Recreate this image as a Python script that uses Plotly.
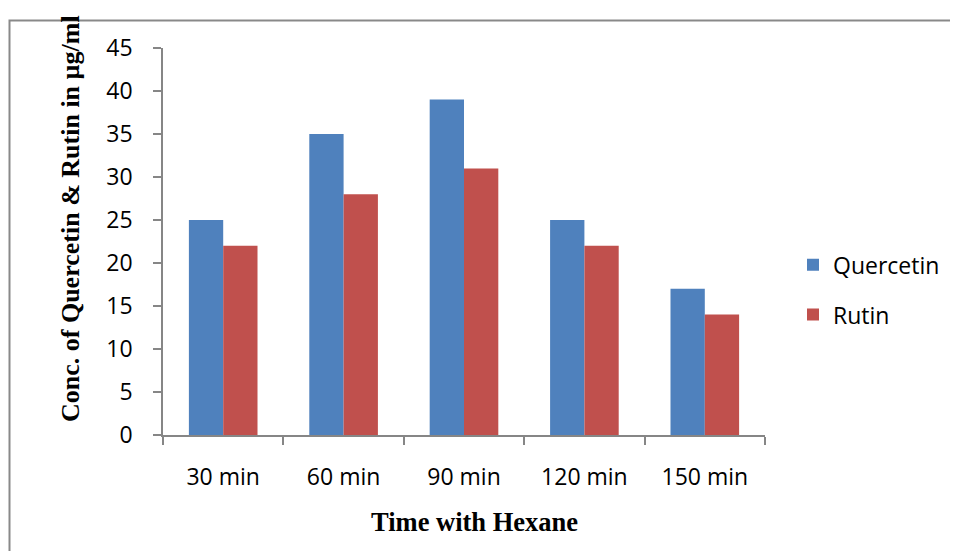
import plotly.graph_objects as go

categories = ["30 min", "60 min", "90 min", "120 min", "150 min"]
quercetin = [25, 35, 39, 25, 17]
rutin = [22, 28, 31, 22, 14]
y_ticks = [0, 5, 10, 15, 20, 25, 30, 35, 40, 45]

OFF = 8  # default page body margin
W, H = 958 - OFF, 551 - OFF
L, R, T, B = 163 - OFF, 765 - OFF, 48 - OFF, 435 - OFF  # plot area in pixels


def px(xp):
    return (xp - OFF - L) / (R - L)


def py(yp):
    return (B - (yp - OFF)) / (B - T)


fig = go.Figure()
fig.add_trace(go.Bar(x=categories, y=quercetin, name="Quercetin",
                     marker=dict(color="#4F81BD", line=dict(width=0)),
                     legendgroup="q"))
fig.add_trace(go.Bar(x=categories, y=rutin, name="Rutin",
                     marker=dict(color="#C0504D", line=dict(width=0)),
                     legendgroup="r"))

axis_color = "#868686"
fig.update_layout(
    width=W, height=H,
    margin=dict(l=L, r=W - R, t=T, b=H - B, pad=0),
    paper_bgcolor="white", plot_bgcolor="white",
    barmode="group", bargap=0.43, bargroupgap=0,
    font=dict(family="Open Sans", size=23, color="black"),
    showlegend=True,
    legend=dict(x=px(793), y=py(289.75), xanchor="left", yanchor="middle",
                font=dict(family="Open Sans", size=23, color="black"),
                tracegroupgap=17, traceorder="grouped",
                bgcolor="rgba(0,0,0,0)"),
    xaxis=dict(showline=True, linecolor=axis_color, linewidth=1.5,
               ticks="outside", tickson="boundaries", ticklen=8,
               tickcolor=axis_color, tickwidth=1.5,
               showgrid=False, zeroline=False, ticklabelstandoff=21,
               tickfont=dict(family="Open Sans", size=23, color="black")),
    yaxis=dict(range=[0, 45], tickvals=y_ticks, showline=True,
               linecolor=axis_color, linewidth=1.5, ticks="outside",
               ticklen=8, tickcolor=axis_color, tickwidth=1.5,
               showgrid=False, zeroline=False, ticklabelstandoff=16,
               tickfont=dict(family="Open Sans", size=23, color="black")),
    annotations=[
        dict(text="Conc. of Quercetin &amp; Rutin in µg/ml", textangle=-90,
             xref="paper", yref="paper", x=px(70), y=py(219),
             xanchor="center", yanchor="middle", showarrow=False,
             font=dict(family="Liberation Serif", size=26, color="black",
                       weight="bold")),
        dict(text="Time with Hexane",
             xref="paper", yref="paper", x=px(474), y=py(522),
             xanchor="center", yanchor="middle", showarrow=False,
             font=dict(family="Liberation Serif", size=26.5, color="black",
                       weight="bold")),
    ],
    shapes=[
        dict(type="rect", xref="paper", yref="paper",
             x0=px(9.5), x1=px(970), y0=py(570), y1=py(20.5),
             line=dict(color="#898989", width=2), fillcolor="rgba(0,0,0,0)",
             layer="below"),
    ],
)

fig.write_html("out.html")
